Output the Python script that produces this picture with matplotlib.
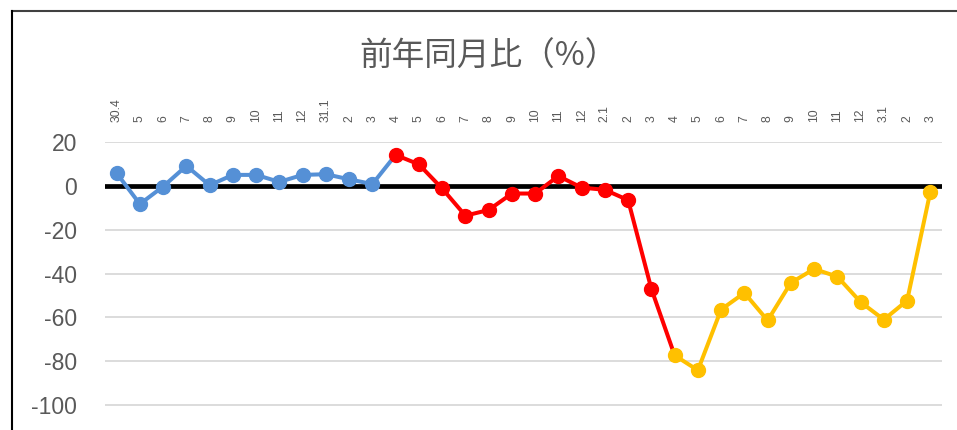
import matplotlib
matplotlib.use('Agg')
import matplotlib.pyplot as plt
from matplotlib.lines import Line2D

# --- data ---
labels = ['30.4', '5', '6', '7', '8', '9', '10', '11', '12', '31.1', '2', '3',
          '4', '5', '6', '7', '8', '9', '10', '11', '12', '2.1', '2', '3',
          '4', '5', '6', '7', '8', '9', '10', '11', '12', '3.1', '2', '3']
blue_vals = [5.8, -8.3, -0.3, 9.1, 0.3, 5.0, 5.0, 1.8, 5.0, 5.3, 3.0, 0.8]
red_vals = [14.1, 9.8, -1.2, -13.6, -11.0, -3.5, -3.5, 4.5, -0.8, -1.8, -6.5, -47.0]
yellow_vals = [-77.3, -84.1, -56.4, -48.8, -61.4, -44.2, -37.9, -41.4, -53.0, -61.0, -52.3, -2.6]
yticks = [20, 0, -20, -40, -60, -80, -100]
title = '前年同月比（%）'

BLUE = '#5590D6'
RED = '#FF0000'
YELLOW = '#FFC000'
GREY = '#595959'

W, H = 957, 430
fig = plt.figure(figsize=(W / 100, H / 100), dpi=100)

# axes placed in pixel terms: x 105..942, y=20 at 142px, y=-120 at 449px
left, right = 105, 942
top_px, bot_px = 142, 449
ax = fig.add_axes([left / W, 1 - bot_px / H, (right - left) / W, (bot_px - top_px) / H])

n = len(labels)
x = list(range(n))
nb, nr = len(blue_vals), len(red_vals)
xb = x[:nb]
xr = x[nb:nb + nr]
xy = x[nb + nr:]

lw = 2.9
ms = 10
# connecting segments take the colour of the starting point
ax.plot(xb + [xr[0]], blue_vals + [red_vals[0]], color=BLUE, lw=lw, zorder=3)
ax.plot(xr + [xy[0]], red_vals + [yellow_vals[0]], color=RED, lw=lw, zorder=3)
ax.plot(xy, yellow_vals, color=YELLOW, lw=lw, zorder=3)
ax.plot(xb, blue_vals, 'o', color=BLUE, ms=ms, zorder=4)
ax.plot(xr, red_vals, 'o', color=RED, ms=ms, zorder=4)
ax.plot(xy, yellow_vals, 'o', color=YELLOW, ms=ms, zorder=4)

ax.set_xlim(-0.5, n - 0.5)
ax.set_ylim(-120, 20)

# grid lines + thick zero line
for v in yticks:
    if v == 0:
        ax.axhline(0, color='black', lw=3.4, zorder=2)
    else:
        ax.axhline(v, color='#D9D9D9', lw=1.3, zorder=1)

ax.set_yticks(yticks)
ax.set_yticklabels([str(v) for v in yticks], fontsize=16.5, color=GREY,
                   family='Liberation Sans')
ax.tick_params(axis='y', length=0, pad=20)

ax.xaxis.tick_top()
ax.set_xticks(x)
ax.set_xticklabels(labels, rotation=90, fontsize=8.8, color=GREY,
                   family='Liberation Sans', va='bottom', ha='center')
ax.tick_params(axis='x', length=0, pad=14.5)

for s in ax.spines.values():
    s.set_visible(False)

fig.text(488 / W, 1 - 57 / H, title, ha='center', va='center', fontsize=23.5,
         color=GREY, family=['Noto Sans CJK JP', 'DejaVu Sans'])

# chart border (top and left visible in the crop)
fig.add_artist(Line2D([12 / W, 1.0], [1 - 11 / H, 1 - 11 / H], color='#404040', lw=1.5,
                      transform=fig.transFigure))
fig.add_artist(Line2D([12 / W, 12 / W], [0, 1 - 11 / H], color='black', lw=1.5,
                      transform=fig.transFigure))

fig.savefig('out.png', dpi=100)
